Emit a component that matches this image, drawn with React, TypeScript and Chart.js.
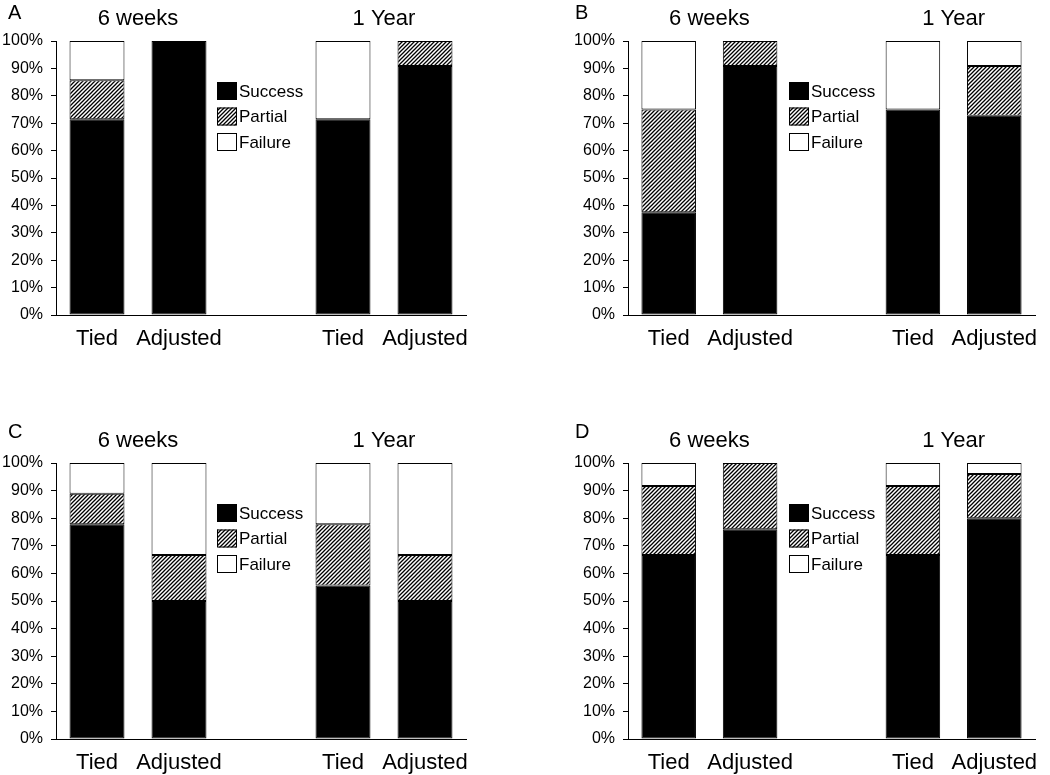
import React, { useEffect, useRef } from "react";
import { Chart, registerables } from "chart.js";

Chart.register(...registerables);

const categories = ["Tied", "Adjusted", "", "Tied", "Adjusted"];
const groupTitles = ["6 weeks", "1 Year"];
const seriesNames = ["Success", "Partial", "Failure"];
const yTicks = [0, 10, 20, 30, 40, 50, 60, 70, 80, 90, 100];

const A_success = [71.4, 100, null, 71.4, 90.9];
const A_partial = [14.3, 0, null, 0, 9.1];
const A_failure = [14.3, 0, null, 28.6, 0];

const B_success = [37.5, 90.9, null, 75, 72.7];
const B_partial = [37.5, 9.1, null, 0, 18.2];
const B_failure = [25, 0, null, 25, 9.1];

const C_success = [77.8, 50, null, 55.6, 50];
const C_partial = [11.1, 16.7, null, 22.2, 16.7];
const C_failure = [11.1, 33.3, null, 22.2, 33.3];

const D_success = [66.7, 76, null, 66.7, 80];
const D_partial = [25, 24, null, 25, 16];
const D_failure = [8.3, 0, null, 8.3, 4];

const FONT = "'Liberation Sans', Arial, Helvetica, sans-serif";

type PanelCfg = {
  letter: string;
  left: number;
  top: number;
  width: number;
  height: number;
  pad: { left: number; right: number; top: number; bottom: number };
  letterX: number;
  letterY: number;
  success: (number | null)[];
  partial: (number | null)[];
  failure: (number | null)[];
};

const panels: PanelCfg[] = [
  { letter: "A", left: 0, top: 0, width: 525, height: 387, pad: { left: 0, right: 59, top: 41, bottom: 36 }, letterX: 8, letterY: 19, success: A_success, partial: A_partial, failure: A_failure },
  { letter: "B", left: 525, top: 0, width: 525, height: 387, pad: { left: 47, right: 15, top: 41, bottom: 36 }, letterX: 50, letterY: 19, success: B_success, partial: B_partial, failure: B_failure },
  { letter: "C", left: 0, top: 387, width: 525, height: 388, pad: { left: 0, right: 59, top: 76, bottom: 0 }, letterX: 8, letterY: 51, success: C_success, partial: C_partial, failure: C_failure },
  { letter: "D", left: 525, top: 387, width: 525, height: 388, pad: { left: 47, right: 15, top: 76, bottom: 0 }, letterX: 50, letterY: 51, success: D_success, partial: D_partial, failure: D_failure },
];

function makeHatch(): CanvasPattern | string {
  const s = 4;
  const c = document.createElement("canvas");
  c.width = s;
  c.height = s;
  const g = c.getContext("2d");
  if (!g) return "#888";
  g.fillStyle = "#fff";
  g.fillRect(0, 0, s, s);
  g.strokeStyle = "#000";
  g.lineWidth = 1.3;
  g.beginPath();
  g.moveTo(0, s);
  g.lineTo(s, 0);
  g.moveTo(-1, 1);
  g.lineTo(1, -1);
  g.moveTo(s - 1, s + 1);
  g.lineTo(s + 1, s - 1);
  g.stroke();
  const p = g.createPattern(c, "repeat");
  return p || "#888";
}

function Panel({ cfg }: { cfg: PanelCfg }) {
  const ref = useRef<HTMLCanvasElement | null>(null);
  useEffect(() => {
    if (!ref.current) return;
    const hatch = makeHatch();
    const fills = ["#000000", hatch, "#ffffff"];
    const overlay = {
      id: "overlay",
      afterDraw(chart: any) {
        const { ctx, chartArea, scales } = chart;
        const x = scales.x;
        ctx.save();
        ctx.fillStyle = "#000";
        ctx.font = `20px ${FONT}`;
        ctx.textAlign = "left";
        ctx.textBaseline = "alphabetic";
        ctx.fillText(cfg.letter, cfg.letterX, cfg.letterY);
        ctx.font = `22px ${FONT}`;
        ctx.textAlign = "center";
        const c1 = (x.getPixelForValue(0) + x.getPixelForValue(1)) / 2;
        const c2 = (x.getPixelForValue(3) + x.getPixelForValue(4)) / 2;
        ctx.fillText(groupTitles[0], c1, chartArea.top - 16);
        ctx.fillText(groupTitles[1], c2, chartArea.top - 16);
        const lx = chartArea.left + 161;
        const ly = chartArea.top + 41;
        ctx.font = `17px ${FONT}`;
        ctx.textAlign = "left";
        ctx.textBaseline = "middle";
        seriesNames.forEach((name, i) => {
          const by = ly + i * 25.5;
          ctx.fillStyle = fills[i] as any;
          ctx.fillRect(lx, by, 20, 18);
          ctx.strokeStyle = "#000";
          ctx.lineWidth = 1;
          ctx.strokeRect(lx + 0.5, by + 0.5, 19, 17);
          ctx.fillStyle = "#000";
          ctx.fillText(name, lx + 22, by + 10);
        });
        ctx.restore();
      },
    };
    const seriesData = [cfg.success, cfg.partial, cfg.failure];
    const chart = new Chart(ref.current, {
      type: "bar",
      data: {
        labels: categories,
        datasets: seriesNames.map((name, i) => ({
          label: name,
          data: seriesData[i] as any,
          backgroundColor: fills[i] as any,
          borderColor: "#000",
          borderWidth: 1,
          borderSkipped: false,
          barPercentage: 0.67,
          categoryPercentage: 1,
        })),
      },
      options: {
        animation: false,
        responsive: false,
        maintainAspectRatio: false,
        events: [],
        layout: { padding: cfg.pad },
        plugins: { legend: { display: false }, tooltip: { enabled: false }, title: { display: false } },
        scales: {
          x: {
            stacked: true,
            grid: { display: true, drawOnChartArea: false, drawTicks: false },
            border: { display: true, color: "#000", width: 1 },
            ticks: { color: "#000", font: { family: FONT, size: 22 }, padding: 11, maxRotation: 0, autoSkip: false },
            afterFit: (s: any) => { s.height = 36; },
          },
          y: {
            stacked: true,
            min: 0,
            max: 100,
            afterBuildTicks: (s: any) => { s.ticks = yTicks.map((v) => ({ value: v })); },
            grid: { display: true, drawOnChartArea: false, drawTicks: true, tickLength: 5, color: "#000" },
            border: { display: true, color: "#000", width: 1 },
            ticks: { color: "#000", font: { family: FONT, size: 16 }, padding: 8, callback: (v: any) => `${v}%` },
            afterFit: (s: any) => { s.width = 56; },
          },
        },
      },
      plugins: [overlay],
    });
    return () => chart.destroy();
  }, [cfg]);
  return (
    <canvas
      ref={ref}
      width={cfg.width}
      height={cfg.height}
      style={{ position: "absolute", left: cfg.left, top: cfg.top, width: cfg.width, height: cfg.height }}
    />
  );
}

export default function App() {
  return (
    <div style={{ position: "absolute", left: 0, top: 0, width: 1050, height: 775, background: "#fff" }}>
      {panels.map((p) => (
        <Panel key={p.letter} cfg={p} />
      ))}
    </div>
  );
}
